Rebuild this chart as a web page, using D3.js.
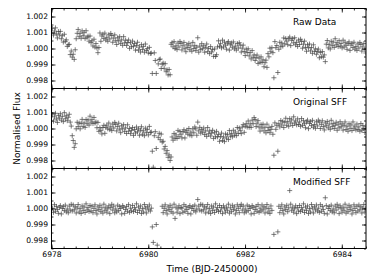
<!DOCTYPE html>
<html>
<head>
<meta charset="utf-8">
<script src="https://cdn.jsdelivr.net/npm/d3@7"></script>
<style>
html,body{margin:0;padding:0;background:#fff;}
svg{display:block;font-family:"DejaVu Sans",sans-serif;}
</style>
</head>
<body>
<svg id="chart" width="374" height="280"></svg>
<script>
// K2 long-cadence sampling (days)
const START_TIME = 6978.02;
const CADENCE = 0.02043;

// Flux offsets from 1, in units of 1e-5 (null = no point)
const rawData = [
126,84,109,129,91,66,106,85,107,61,
80,40,89,45,54,13,23,26,-38,-16,
-54,-36,-68,-8,
61,95,119,74,95,64,110,80,99,62,
111,70,77,46,78,37,48,16,58,9,31,3,-26,6,
97,45,78,89,63,96,53,70,45,86,
60,94,81,39,65,85,48,25,67,48,
74,32,54,20,74,35,52,19,37,53,
1,36,11,46,14,31,-10,19,39,-10,
9,-22,24,-6,13,-23,28,-13,-1,-28,7,-31,
-29,-156,-280,-27,-75,-156,-290,-96,-69,-66,-125,-98,-92,-124,-95,-145,-134,-165,-131,-164,
26,36,10,43,0,17,-7,34,9,44,
32,-9,17,38,1,-20,23,6,32,-8,
16,-17,38,0,18,-13,8,67,-23,15,
-7,30,-1,17,-23,7,28,-20,0,-32,
12,-22,-7,-49,-3,-50,-39,
10,48,14,30,4,52,10,40,21,-4,
33,43,-10,23,34,8,41,-2,15,-10,
31,3,36,21,-22,2,21,-19,-44,-4,
-25,-2,-46,-26,-65,-13,-55,-40,-75,-58,
-41,-94,-60,-86,-52,-86,-71,-114,-89,-73,
-118,-32,-52,2,-20,5,-26,
-183,43,5,19,-150,
-5,39,11,34,15,66,29,62,46,24,
61,71,18,51,62,35,67,23,39,13,
53,25,58,44,2,27,46,7,-17,24,
4,28,-15,6,-30,23,-18,-2,-36,-18,
-4,-58,-25,-52,-19,-54,-40,-82,
27,50,4,26,-3,45,18,40,7,61,
23,36,12,49,15,31,4,52,10,39,
20,-5,31,41,-12,21,32,6,39,-4,
13,-12,29,3,38,25,-16,10,31,-6,-28
];

const originalSFF = [
86,46,73,95,59,38,82,65,92,52,76,43,99,61,80,49,70,89,40,
15,-45,-75,-118,-95,
-2,39,12,34,-2,32,57,12,35,7,
56,30,53,21,77,40,55,31,69,34,
41,5,38,-18,
5,-12,-34,6,20,-30,7,21,-2,34,
-7,11,-13,28,3,38,26,-15,12,33,
-4,-26,17,-2,24,-18,4,-31,23,-17,
0,-32,-12,6,-43,-6,-28,9,-21,-2,
-42,-11,11,-36,-15,-45,2,-26,-6,-40,13,-25,
-22,-142,-242,-45,-20,-125,-270,-55,-30,-70,-35,-85,-80,-128,-112,-155,-138,-180,-165,-200,-178,
-53,-73,-31,-61,-40,-62,-12,-51,-19,-36,
-59,-20,-8,-59,-24,-11,-35,0,-41,-22,
-45,-2,-27,9,-2,-42,40,-15,7,-29,
-6,-23,3,-38,-15,-49,6,-33,-15,-47,
-28,-11,-62,-27,-52,-18,-52,-37,-80,-51,
-29,-75,-53,-82,-34,-60,-37,-69,-13,-48,
-31,-52,-11,-42,-22,-45,6,-31,3,-12,
-32,9,24,-24,14,30,9,47,8,29,
7,52,30,68,56,12,33,49,9,-16,
24,3,27,-15,8,-27,27,-12,6,-26,-6,13,-36,
-167,35,-5,20,-142,
30,10,50,22,43,6,39,64,20,43,
14,62,34,54,19,73,34,47,23,60,
25,41,14,62,20,49,30,5,41,52,
-1,32,43,18,51,8,25,1,42,16,
52,40,0,26,48,12,-9,35,17,44,
4,28,-5,51,13,31,0,20,39,-11,
27,4,42,11,29,-10,20,41,-6,14,
-17,30,1,22,-13,41,2,15,-9,28,
-7,10,-17,31,-11,19,-1,-25,11
];

const modifiedSFF = [
2,-24,24,-17,13,-6,-30,7,18,-34,0,12,-13,21,-21,-3,-27,15,-10,26,
-16,22,-8,11,-28,3,25,-22,-1,-31,16,-12,9,-25,29,-9,5,-19,19,-15,
14,-26,1,23,-13,-34,10,-7,20,-20,4,-29,27,-11,8,-23,-2,17,-32,6,
26,-10,15,-27,-3,-21,21,-13,12,0,-34,18,7,-30,-6,13,-17,24,-24,2,
-15,19,-19,5,-9,29,-25,9,-12,16,-31,-1,-22,25,3,-28,11,-8,22,-16,
2,-115,-212,null,null,-100,-229,null,null,null,null,
14,-26,1,23,-13,-34,10,-7,20,-20,4,-29,27,-62,8,-23,-2,17,-32,6,
2,-24,24,-17,13,-6,-30,7,18,-34,0,12,-13,21,-21,-3,56,15,-10,26,
-16,22,-8,11,-28,3,25,-22,-1,-31,16,-12,9,-25,29,-9,5,-19,19,-15,
6,-32,17,-2,-23,8,-11,27,-29,4,-20,20,-7,10,-34,-13,23,1,-26,14,
26,-10,15,-27,-3,-21,21,-13,12,0,-34,18,7,-30,-6,13,-17,24,-24,2,
-16,22,-8,11,-28,3,25,-22,-1,-31,16,-12,
null,-162,null,null,null,-146,
14,-26,1,23,-13,-34,10,-7,20,-20,4,112,27,-11,8,-23,-2,17,-32,6,
-15,19,-19,5,-9,29,-25,9,-12,16,-31,-1,-22,25,3,-28,11,-8,22,-16,
2,-24,24,-17,13,-6,-30,67,18,-34,0,12,-13,21,-21,-3,-27,15,-10,26,
6,-32,17,-2,-23,8,-11,27,-29,4,-20,20,-7,10,-34,-13,23,1,-26,14,
-16,22,-8,11,-28,3,25,-22,-1
];

const panelLabels = ["Raw Data", "Original SFF", "Modified SFF"];
const xTickValues = [6978, 6980, 6982, 6984];
const yTickValues = [0.998, 0.999, 1.000, 1.001, 1.002];
const xDomain = [6978, 6984.5];
const yDomain = [0.9975, 1.0025];

const series = [rawData, originalSFF, modifiedSFF];

const svg = d3.select("#chart");
const L = 51.5, R = 366, T = 8.5, PH = 80;
const x = d3.scaleLinear().domain(xDomain).range([L, R]);
const xMinor = d3.range(0, 27).map(i => 6978 + i * 0.25);
const yMinor = d3.range(0, 11).map(i => 0.9975 + i * 0.0005);

const crossPath = "M-2.5,0H2.5M0,-2.5V2.5";

series.forEach((vals, k) => {
  const top = T + k * PH;
  const y = d3.scaleLinear().domain(yDomain).range([top + PH, top]);
  const g = svg.append("g");
  const clipId = "clip" + k;
  svg.append("clipPath").attr("id", clipId).append("rect")
    .attr("x", L).attr("y", top).attr("width", R - L).attr("height", PH);

  const pts = vals.map((v, i) => ({t: START_TIME + i * CADENCE, f: v == null ? null : 1 + v / 1e5}))
    .filter(d => d.f != null);
  g.append("g").attr("clip-path", `url(#${clipId})`)
    .selectAll("path").data(pts).join("path")
    .attr("d", crossPath)
    .attr("transform", d => `translate(${x(d.t)},${y(d.f)})`)
    .attr("fill", "none")
    .attr("stroke", "#474747")
    .attr("stroke-opacity", 0.78)
    .attr("stroke-width", 0.9);

  const styleAxis = sel => {
    sel.select(".domain").remove();
    sel.selectAll(".tick line").attr("stroke", "#000").attr("stroke-width", 0.8);
    sel.selectAll("text").attr("font-family", "DejaVu Sans").attr("font-size", 7.6).attr("fill", "#000");
  };

  g.append("g").attr("transform", `translate(${L},0)`)
    .call(d3.axisLeft(y).tickValues(yTickValues).tickFormat(d3.format(".3f")).tickSize(-4).tickPadding(3.5))
    .call(styleAxis);
  g.append("g").attr("transform", `translate(${L},0)`)
    .call(d3.axisLeft(y).tickValues(yMinor).tickFormat("").tickSize(-2))
    .call(styleAxis);
  g.append("g").attr("transform", `translate(${R},0)`)
    .call(d3.axisRight(y).tickValues(yTickValues).tickFormat("").tickSize(-4))
    .call(styleAxis);
  g.append("g").attr("transform", `translate(${R},0)`)
    .call(d3.axisRight(y).tickValues(yMinor).tickFormat("").tickSize(-2))
    .call(styleAxis);
  g.append("g").attr("transform", `translate(0,${top})`)
    .call(d3.axisTop(x).tickValues(xTickValues).tickFormat("").tickSize(-4))
    .call(styleAxis);
  g.append("g").attr("transform", `translate(0,${top})`)
    .call(d3.axisTop(x).tickValues(xMinor).tickFormat("").tickSize(-2))
    .call(styleAxis);
  g.append("g").attr("transform", `translate(0,${top + PH})`)
    .call(d3.axisBottom(x).tickValues(xTickValues).tickFormat(k === 2 ? d3.format("d") : "").tickSize(-4).tickPadding(3.6))
    .call(styleAxis);
  g.append("g").attr("transform", `translate(0,${top + PH})`)
    .call(d3.axisBottom(x).tickValues(xMinor).tickFormat("").tickSize(-2))
    .call(styleAxis);

  g.append("rect").attr("x", L).attr("y", top).attr("width", R - L).attr("height", PH)
    .attr("fill", "none").attr("stroke", "#000").attr("stroke-width", 1);

  g.append("text").attr("x", 293).attr("y", top + 16.8)
    .attr("font-family", "DejaVu Sans").attr("font-size", 9).attr("fill", "#000")
    .text(panelLabels[k]);
});

svg.append("text")
  .attr("transform", `translate(20,${T + 1.5 * PH}) rotate(-90)`)
  .attr("text-anchor", "middle")
  .attr("font-family", "DejaVu Sans").attr("font-size", 9).attr("fill", "#000")
  .text("Normalised Flux");

svg.append("text")
  .attr("x", 212).attr("y", 272)
  .attr("text-anchor", "middle")
  .attr("font-family", "DejaVu Sans").attr("font-size", 9).attr("fill", "#000")
  .text("Time (BJD-2450000)");
</script>
</body>
</html>
